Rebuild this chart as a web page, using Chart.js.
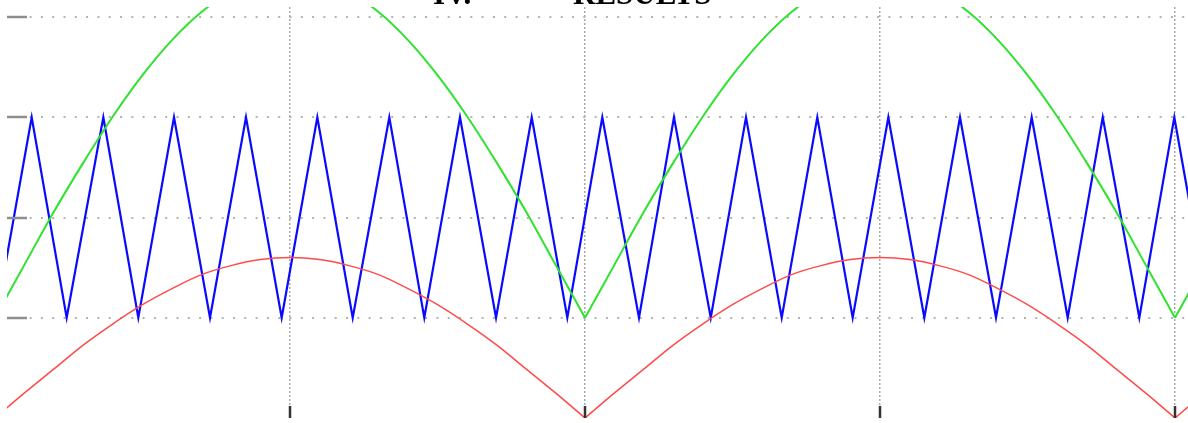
<!DOCTYPE html>
<html>
<head>
<meta charset="utf-8">
<script src="https://cdn.jsdelivr.net/npm/chart.js@4/dist/chart.umd.min.js"></script>
<style>
  html, body { margin: 0; padding: 0; background: #fff; overflow: hidden; }
  #wrap { position: relative; width: 1188px; height: 423px; }
  .heading {
    position: absolute;
    top: -22px;
    font-family: "Liberation Serif", "DejaVu Serif", serif;
    font-weight: bold;
    font-size: 31px;
    line-height: 1;
    color: #000;
    white-space: nowrap;
  }
</style>
</head>
<body>
<div id="wrap">
  <canvas id="plot" width="1188" height="423"></canvas>
  <div class="heading" style="left:433px">IV.</div>
  <div class="heading" style="left:573px">RESULTS</div>
</div>
<script>
// time axis (ms) for the two rectified sine curves
const sineTimes = [0, 0.5, 1, 1.5, 2, 2.5, 3, 3.5, 4, 4.5, 5, 5.5, 6, 6.5, 7, 7.5, 8, 8.5, 9, 9.5, 10,
  10.5, 11, 11.5, 12, 12.5, 13, 13.5, 14, 14.5, 15, 15.5, 16, 16.5, 17, 17.5, 18, 18.5, 19, 19.5, 20, 20.5];

// red curve (reference)
const redValues = [0, 0.25, 0.49, 0.73, 0.94, 1.13, 1.29, 1.43, 1.52, 1.58, 1.60, 1.58, 1.52, 1.43, 1.29, 1.13, 0.94, 0.73, 0.49, 0.25, 0,
  0.25, 0.49, 0.73, 0.94, 1.13, 1.29, 1.43, 1.52, 1.58, 1.60, 1.58, 1.52, 1.43, 1.29, 1.13, 0.94, 0.73, 0.49, 0.25, 0, 0.25];

// green curve (offset reference)
const greenValues = [1.00, 1.53, 2.06, 2.55, 3.01, 3.42, 3.77, 4.05, 4.25, 4.38, 4.42, 4.38, 4.25, 4.05, 3.77, 3.42, 3.01, 2.55, 2.06, 1.53, 1.00,
  1.53, 2.06, 2.55, 3.01, 3.42, 3.77, 4.05, 4.25, 4.38, 4.42, 4.38, 4.25, 4.05, 3.77, 3.42, 3.01, 2.55, 2.06, 1.53, 1.00, 1.53];

// times where the rectified curves have their sharp corners
const cuspTimes = [10, 20];

// blue carrier: corners of the triangle wave
const carrierTimes = [0.017, 0.622, 1.215, 1.836, 2.429, 3.034, 3.644, 4.254, 4.859, 5.463, 6.063, 6.683,
  7.276, 7.881, 8.492, 9.097, 9.700, 10.293, 10.915, 11.508, 12.131, 12.729, 13.334, 13.937,
  14.537, 15.141, 15.751, 16.356, 16.966, 17.571, 18.181, 18.775, 19.395, 19.988, 20.593];
const carrierValues = [1, 3, 1, 3, 1, 3, 1, 3, 1, 3, 1, 3, 1, 3, 1, 3, 1, 3, 1, 3, 1, 3, 1, 3,
  1, 3, 1, 3, 1, 3, 1, 3, 1, 3, 1];

// axis ticks
const xTickValues = [5, 10, 15, 20];
const yTickValues = [1, 2, 3, 4];
const xRange = [0.2034, 20.22];
const yRange = [0, 4.1];

function toPoints(xs, ys) {
  return xs.map((x, i) => ({ x: x, y: ys[i] }));
}

// split a rectified curve into arches so the smoothing keeps the corners sharp
function arches(xs, ys) {
  const out = [];
  let cur = [];
  xs.forEach((x, i) => {
    cur.push({ x: x, y: ys[i] });
    if (cuspTimes.includes(x)) {
      out.push(cur);
      cur = [{ x: x, y: ys[i] }];
    }
  });
  if (cur.length > 1) out.push(cur);
  return out;
}

function archSets(xs, ys, color, width) {
  return arches(xs, ys).map(pts => ({
    data: pts,
    borderColor: color,
    borderWidth: width,
    pointRadius: 0,
    tension: 0.35
  }));
}

// MATLAB style tick marks drawn inside the axes
const insideTicks = {
  id: 'insideTicks',
  afterDatasetsDraw(chart) {
    const ctx = chart.ctx;
    const area = chart.chartArea;
    const xs = chart.scales.x;
    const ys = chart.scales.y;
    ctx.save();
    ctx.lineWidth = 2.5;
    ctx.strokeStyle = '#8e8e8e';
    ys.ticks.forEach(t => {
      const py = Math.round(ys.getPixelForValue(t.value));
      ctx.beginPath();
      ctx.moveTo(area.left, py);
      ctx.lineTo(area.left + 20, py);
      ctx.stroke();
    });
    ctx.strokeStyle = '#333';
    xs.ticks.forEach(t => {
      const px = Math.round(xs.getPixelForValue(t.value));
      ctx.beginPath();
      ctx.moveTo(px, area.bottom);
      ctx.lineTo(px, area.bottom - 12);
      ctx.stroke();
    });
    ctx.restore();
  }
};

const ctx = document.getElementById('plot').getContext('2d');
const chart = new Chart(ctx, {
  type: 'line',
  data: {
    datasets: [
      ...archSets(sineTimes, redValues, '#ff4a4a', 1.5),
      ...archSets(sineTimes, greenValues, '#2ee22e', 2),
      {
        label: 'carrier',
        data: toPoints(carrierTimes, carrierValues),
        borderColor: '#0a0aff',
        borderWidth: 2.2,
        pointRadius: 0,
        tension: 0
      }
    ]
  },
  options: {
    responsive: false,
    animation: false,
    layout: { padding: { left: 7, top: 7, right: 0, bottom: 5 } },
    plugins: {
      legend: { display: false },
      title: { display: false },
      tooltip: { enabled: false }
    },
    scales: {
      x: {
        type: 'linear',
        min: xRange[0],
        max: xRange[1],
        afterBuildTicks: scale => { scale.ticks = xTickValues.map(v => ({ value: v })); },
        ticks: { display: false },
        border: { display: false, dash: [2, 2] },
        grid: {
          drawTicks: false,
          color: '#aaaaaa',
          lineWidth: 1.5
        }
      },
      y: {
        type: 'linear',
        min: yRange[0],
        max: yRange[1],
        afterBuildTicks: scale => { scale.ticks = yTickValues.map(v => ({ value: v })); },
        ticks: { display: false },
        border: { display: false, dash: [2, 9.3] },
        grid: {
          drawTicks: false,
          color: '#b3b3b3',
          lineWidth: 2
        }
      }
    }
  },
  plugins: [insideTicks]
});
</script>
</body>
</html>
